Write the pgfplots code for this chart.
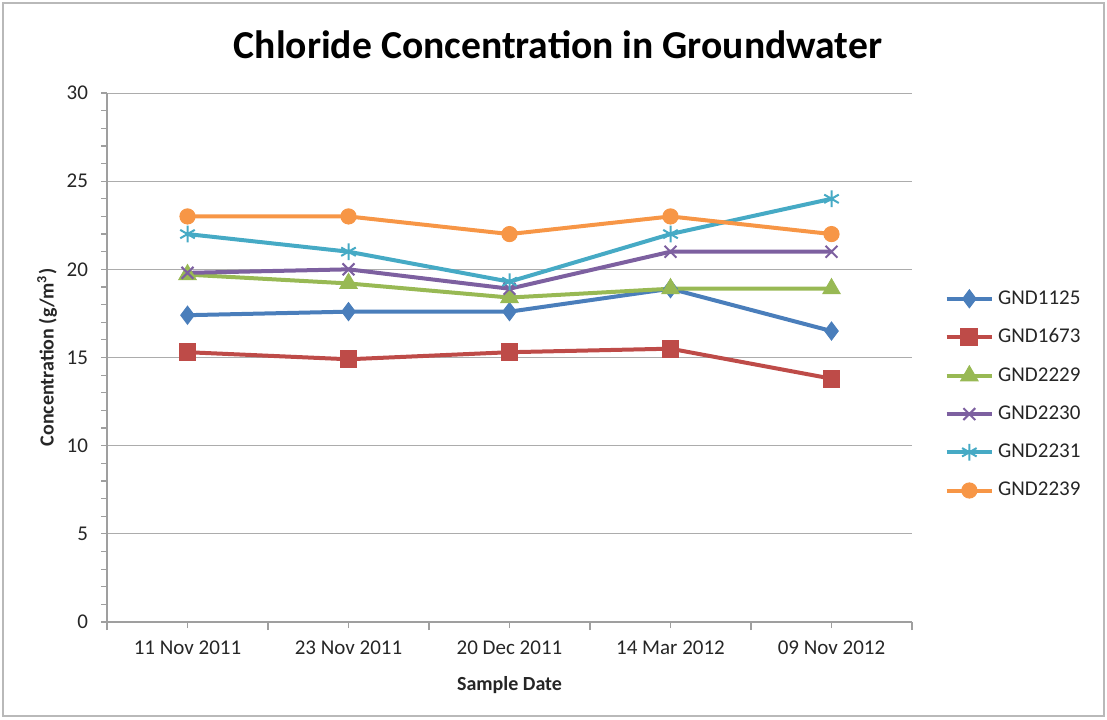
\documentclass[border=0pt]{standalone}
\usepackage{fontspec}
\setmainfont{Carlito}
\usepackage{pgfplots}
\pgfplotsset{compat=1.18}
\definecolor{c1}{HTML}{4A7EBB}
\definecolor{c2}{HTML}{BE4B48}
\definecolor{c3}{HTML}{98B954}
\definecolor{c4}{HTML}{7D60A0}
\definecolor{c5}{HTML}{46AAC5}
\definecolor{c6}{HTML}{F79646}
\definecolor{txt}{HTML}{262626}
\begin{document}
\begin{tikzpicture}
\useasboundingbox (0,0) rectangle (553.5pt,359.5pt);
\draw[gray!55, line width=0.8pt] (1.5pt,1.5pt) rectangle (552pt,358pt);
\node[font=\bfseries\fontsize{19.8}{23}\selectfont, text=black] at (279pt,337pt) {Chloride Concentration in Groundwater};
\begin{axis}[
  at={(53.5pt,48.5pt)}, anchor=south west,
  scale only axis, width=402.5pt, height=264.5pt,
  xmin=-0.5, xmax=4.5, ymin=0, ymax=30,
  axis lines*=left,
  axis line style={draw=gray!75, line width=0.6pt},
  xtick={0,1,2,3,4},
  xticklabels={11 Nov 2011, 23 Nov 2011, 20 Dec 2011, 14 Mar 2012, 09 Nov 2012},
  extra x ticks={-0.5,0.5,1.5,2.5,3.5,4.5},
  extra x tick labels={},
  extra x tick style={major tick length=4pt, tick align=outside},
  ytick={0,5,...,30},
  minor y tick num=4,
  ymajorgrids,
  grid style={gray!65, line width=0.5pt},
  tick style={draw=gray!75, line width=0.6pt},
  major tick length=3pt, minor tick length=3pt,
  tick align=outside,
  /pgf/number format/assume math mode=true,
  ticklabel style={font=\fontsize{10.5}{12}\selectfont, text=txt},
  xticklabel style={yshift=-3pt},
  yticklabel style={xshift=-3pt},
  xlabel={Sample Date},
  ylabel={Concentration (g/m\textsuperscript{3})},
  label style={font=\bfseries\fontsize{10}{12}\selectfont, text=txt},
  xlabel style={yshift=3pt},
  ylabel style={yshift=-2pt},
  legend style={at={(1.04,0.635)}, anchor=north west, draw=none, fill=none,
    font=\fontsize{10.5}{12}\selectfont, text=txt, row sep=6.8pt, inner sep=0pt},
  legend cell align=left,
  legend image code/.code={\draw[mark repeat=2,mark phase=2] plot coordinates {(0cm,0cm)(0.4cm,0cm)(0.8cm,0cm)};},
  every axis plot/.append style={line width=2pt},
]
\addplot[c1, mark=diamond*, mark size=4.5pt, mark options={solid, fill=c1, line width=0.5pt}]
  coordinates {(0,17.4) (1,17.6) (2,17.6) (3,18.9) (4,16.5)};
\addplot[c2, mark=square*, mark size=4.2pt, mark options={solid, fill=c2, line width=0.5pt}]
  coordinates {(0,15.3) (1,14.9) (2,15.3) (3,15.5) (4,13.8)};
\addplot[c3, mark=triangle*, mark size=5pt, mark options={solid, fill=c3, line width=0.5pt}]
  coordinates {(0,19.7) (1,19.2) (2,18.4) (3,18.9) (4,18.9)};
\addplot[c4, mark=x, mark size=4.2pt, mark options={solid, line width=1pt}]
  coordinates {(0,19.8) (1,20.0) (2,18.9) (3,21.0) (4,21.0)};
\addplot[c5, mark=asterisk, mark size=4.2pt, mark options={solid, line width=1pt}]
  coordinates {(0,22.0) (1,21.0) (2,19.3) (3,22.0) (4,24.0)};
\addplot[c6, mark=*, mark size=3.8pt, mark options={solid, fill=c6, line width=0.5pt}]
  coordinates {(0,23.0) (1,23.0) (2,22.0) (3,23.0) (4,22.0)};
\legend{GND1125, GND1673, GND2229, GND2230, GND2231, GND2239}
\end{axis}
\end{tikzpicture}
\end{document}
